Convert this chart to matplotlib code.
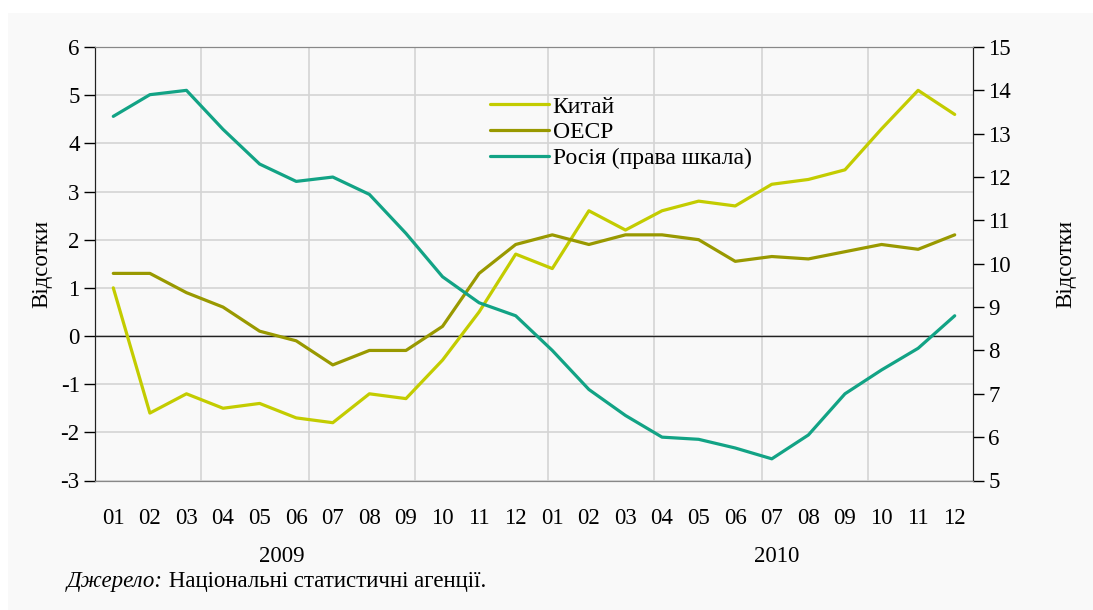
import matplotlib
matplotlib.use("Agg")
import matplotlib.pyplot as plt
from matplotlib.patches import Rectangle

plt.rcParams["font.family"] = "serif"
plt.rcParams["font.serif"] = ["Liberation Serif", "DejaVu Serif"]
plt.rcParams["axes.unicode_minus"] = False

months = ["01", "02", "03", "04", "05", "06", "07", "08", "09", "10", "11", "12"] * 2
years = ["2009", "2010"]

china = [1.0, -1.6, -1.2, -1.5, -1.4, -1.7, -1.8, -1.2, -1.3, -0.5, 0.5, 1.7,
         1.4, 2.6, 2.2, 2.6, 2.8, 2.7, 3.15, 3.25, 3.45, 4.3, 5.1, 4.6]
oecd = [1.3, 1.3, 0.9, 0.6, 0.1, -0.1, -0.6, -0.3, -0.3, 0.2, 1.3, 1.9,
        2.1, 1.9, 2.1, 2.1, 2.0, 1.55, 1.65, 1.6, 1.75, 1.9, 1.8, 2.1]
russia = [13.4, 13.9, 14.0, 13.1, 12.3, 11.9, 12.0, 11.6, 10.7, 9.7, 9.1, 8.8,
          8.0, 7.1, 6.5, 6.0, 5.95, 5.75, 5.5, 6.05, 7.0, 7.55, 8.05, 8.8]

labels = ["Китай", "ОЕСР", "Росія (права шкала)"]
colors = ["#c3cc00", "#999900", "#12a385"]

BG = "#f9f9f9"
FS = 16.5

fig = plt.figure(figsize=(10.93, 6.10), dpi=100)
fig.patch.set_facecolor("white")
fig.patches.append(Rectangle((8 / 1093, 0), 1, 1 - 13 / 610, transform=fig.transFigure,
                             facecolor=BG, edgecolor="none", zorder=-10))

ax = fig.add_axes([95 / 1093, 1 - 480.5 / 610, 878 / 1093, 433.5 / 610])
ax.set_facecolor(BG)
x = list(range(len(months)))

# horizontal grid every unit, vertical grid lines as in the source
for v in range(-3, 7):
    ax.axhline(v, color="#d4d4d4", lw=1.2, zorder=1)
for gx in [2.40, 5.35, 8.24, 11.87, 14.79, 17.72, 20.62]:
    ax.axvline(gx, color="#d4d4d4", lw=1.2, zorder=1)
ax.axhline(0, color="#222222", lw=1.0, zorder=2)

l1, = ax.plot(x, china, color=colors[0], lw=2.3, zorder=4, solid_capstyle="round")
l2, = ax.plot(x, oecd, color=colors[1], lw=2.3, zorder=4, solid_capstyle="round")

ax.set_xlim(-0.5, len(months) - 0.5)
ax.set_ylim(-3, 6)
ax.set_yticks(range(-3, 7))
ax.set_xticks(x)
ax.set_xticklabels(months)
ax.tick_params(axis="x", length=0, pad=20, labelsize=FS)
ax.tick_params(axis="y", direction="out", length=8, width=1, labelsize=FS, pad=3)
ax.set_ylabel("Відсотки", fontsize=FS)
ax.yaxis.set_label_coords(-0.049, 0.5)

ax2 = ax.twinx()
l3, = ax2.plot(x, russia, color=colors[2], lw=2.3, zorder=4, solid_capstyle="round")
ax2.set_ylim(5, 15)
ax2.set_yticks(range(5, 16))
ax2.tick_params(axis="y", direction="out", length=8, width=1, labelsize=FS, pad=3)
ax2.set_ylabel("Відсотки", fontsize=FS, rotation=90)
ax2.yaxis.set_label_coords(1.094, 0.5)

for a in (ax, ax2):
    a.spines["top"].set_color("#888888")
    a.spines["bottom"].set_color("#888888")
    a.spines["left"].set_color("#222222")
    a.spines["right"].set_color("#222222")

ax.legend([l1, l2, l3], labels, loc="upper left", bbox_to_anchor=(490 / 1093, 1 - 96 / 610),
          bbox_transform=fig.transFigure, frameon=False, fontsize=17, handlelength=2.5,
          handletextpad=0.15, labelspacing=0.18, borderpad=0, borderaxespad=0)

fig.text(282 / 1093, 1 - 556 / 610, years[0], ha="center", va="center", fontsize=FS)
fig.text(777 / 1093, 1 - 556 / 610, years[1], ha="center", va="center", fontsize=FS)

src = fig.text(67 / 1093, 1 - 582 / 610, "Джерело:", ha="left", va="center",
               fontsize=FS, style="italic")
ax.annotate(" Національні статистичні агенції.", xy=(1, 0), xycoords=src,
            ha="left", va="bottom", fontsize=FS, annotation_clip=False)

fig.savefig("out.png", dpi=100, facecolor=fig.get_facecolor())
